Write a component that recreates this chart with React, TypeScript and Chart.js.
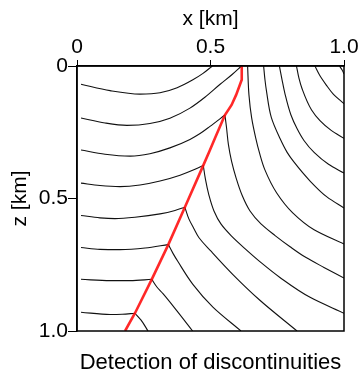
import React, { useEffect, useRef } from 'react';
import { Chart, registerables } from 'chart.js';

Chart.register(...registerables);

// Axis ticks (km)
const xTicks = [0, 0.5, 1.0];
const zTicks = [0, 0.5, 1.0];
const tickLabels = ['0', '0.5', '1.0'];

// Detected discontinuity (fault) trace: [x, z] in km
const fault = [[0.617, 0], [0.617, 0.052], [0.596, 0.109], [0.579, 0.147], [0.554, 0.185], [0.517, 0.272], [0.496, 0.322], [0.473, 0.375], [0.404, 0.533], [0.342, 0.674], [0.280, 0.805], [0.217, 0.933], [0.180, 1.0]];

// Events left of the discontinuity (ordered by x)
const left1 = [[0.015, 0.069], [0.124, 0.093], [0.236, 0.106], [0.311, 0.101], [0.375, 0.082], [0.434, 0.052], [0.472, 0.028], [0.507, 0]];
const left2 = [[0.015, 0.196], [0.105, 0.215], [0.187, 0.224], [0.273, 0.217], [0.348, 0.197], [0.423, 0.159], [0.479, 0.118], [0.536, 0.069], [0.581, 0.032], [0.616, 0]];
const left3 = [[0.015, 0.317], [0.105, 0.333], [0.199, 0.340], [0.273, 0.331], [0.348, 0.309], [0.423, 0.277], [0.461, 0.255], [0.498, 0.228], [0.554, 0.185]];
const left4 = [[0.015, 0.442], [0.086, 0.451], [0.161, 0.455], [0.236, 0.449], [0.311, 0.434], [0.386, 0.412], [0.442, 0.390], [0.473, 0.375]];
const left5 = [[0.015, 0.564], [0.086, 0.573], [0.142, 0.576], [0.217, 0.571], [0.311, 0.558], [0.367, 0.545], [0.404, 0.533]];
const left6 = [[0.015, 0.685], [0.086, 0.692], [0.161, 0.693], [0.255, 0.687], [0.342, 0.674]];
const left7 = [[0.015, 0.805], [0.124, 0.810], [0.199, 0.810], [0.280, 0.805]];
const left8 = [[0.015, 0.929], [0.124, 0.938], [0.169, 0.937], [0.217, 0.933]];

// Events right of the discontinuity (ordered by z)
const right7 = [[0.983, 0], [0.993, 0.015], [1.0, 0.030]];
const right6 = [[0.891, 0], [0.910, 0.037], [0.933, 0.071], [0.959, 0.105], [1.0, 0.142]];
const right5 = [[0.822, 0], [0.831, 0.045], [0.843, 0.086], [0.878, 0.165], [0.910, 0.206], [0.952, 0.243], [1.0, 0.273]];
const right4 = [[0.758, 0], [0.768, 0.052], [0.779, 0.105], [0.801, 0.184], [0.824, 0.236], [0.850, 0.281], [0.888, 0.326], [0.942, 0.371], [1.0, 0.404]];
const right3 = [[0.699, 0], [0.704, 0.052], [0.710, 0.097], [0.728, 0.195], [0.760, 0.273], [0.787, 0.326], [0.813, 0.363], [0.873, 0.434], [0.936, 0.494], [1.0, 0.536]];
const right2 = [[0.639, 0], [0.644, 0.109], [0.654, 0.195], [0.669, 0.270], [0.684, 0.330], [0.703, 0.390], [0.748, 0.479], [0.808, 0.554], [0.888, 0.618], [1.0, 0.672]];
const right1 = [[0.554, 0.185], [0.560, 0.232], [0.567, 0.296], [0.579, 0.360], [0.596, 0.423], [0.618, 0.487], [0.648, 0.547], [0.689, 0.596], [0.742, 0.640], [0.798, 0.682], [0.858, 0.723], [0.925, 0.760], [1.0, 0.800]];
const rightJ4 = [[0.473, 0.375], [0.481, 0.427], [0.494, 0.487], [0.513, 0.547], [0.539, 0.596], [0.577, 0.640], [0.629, 0.689], [0.693, 0.745], [0.760, 0.798], [0.873, 0.873], [1.0, 0.933]];
const rightJ5 = [[0.404, 0.533], [0.419, 0.577], [0.438, 0.614], [0.457, 0.648], [0.502, 0.699], [0.584, 0.787], [0.685, 0.884], [0.824, 1.0]];
const rightJ6 = [[0.342, 0.674], [0.360, 0.708], [0.378, 0.738], [0.434, 0.824], [0.509, 0.910], [0.614, 1.0]];
const rightJ7 = [[0.280, 0.805], [0.300, 0.835], [0.322, 0.859], [0.375, 0.925], [0.433, 1.0]];
const rightJ8 = [[0.217, 0.933], [0.240, 0.959], [0.266, 1.0]];

const leftEvents = [left1, left2, left3, left4, left5, left6, left7, left8];
const rightEvents = [right7, right6, right5, right4, right3, right2, right1, rightJ4, rightJ5, rightJ6, rightJ7, rightJ8];

const FONT = '"Liberation Sans", Arial, Helvetica, sans-serif';

const toPts = (arr: number[][]) => arr.map(([x, z]) => ({ x, y: z }));

const framePlugin = {
  id: 'frame',
  afterDatasetsDraw(chart: any) {
    const { ctx, chartArea } = chart;
    const { left, top, right, bottom } = chartArea;
    ctx.save();
    ctx.strokeStyle = '#000';
    ctx.lineWidth = 1.5;
    ctx.strokeRect(left, top, right - left, bottom - top);
    ctx.restore();
  },
};

const eventStyle = {
  showLine: true,
  borderColor: '#111',
  borderWidth: 1.1,
  pointRadius: 0,
  fill: false,
  cubicInterpolationMode: 'monotone',
};

export default function App() {
  const ref = useRef<HTMLCanvasElement | null>(null);

  useEffect(() => {
    if (!ref.current) return;
    const datasets: any[] = [
      {
        label: 'discontinuity',
        data: toPts(fault),
        indexAxis: 'y',
        showLine: true,
        borderColor: 'rgba(255,10,10,0.88)',
        borderWidth: 2.6,
        pointRadius: 0,
        fill: false,
        tension: 0,
      },
      ...leftEvents.map((ev, i) => ({ ...eventStyle, label: 'left' + i, data: toPts(ev), indexAxis: 'x' })),
      ...rightEvents.map((ev, i) => ({ ...eventStyle, label: 'right' + i, data: toPts(ev), indexAxis: 'y' })),
    ];

    const chart = new Chart(ref.current, {
      type: 'line',
      data: { datasets },
      plugins: [framePlugin],
      options: {
        animation: false,
        responsive: false,
        devicePixelRatio: 1,
        layout: { padding: { left: 0, top: 0, right: 16, bottom: 0 } },
        plugins: {
          legend: { display: false },
          tooltip: { enabled: false },
          title: {
            display: true,
            text: 'Detection of discontinuities',
            position: 'bottom',
            fullSize: false,
            color: '#000',
            font: { family: FONT, size: 22, weight: 'normal', lineHeight: 1 },
            padding: { top: 21, bottom: 0 },
          },
        },
        scales: {
          x: {
            type: 'linear',
            position: 'top',
            min: 0,
            max: 1,
            afterBuildTicks: (scale: any) => { scale.ticks = xTicks.map((v) => ({ value: v })); },
            afterFit: (scale: any) => { scale.height = 66; },
            ticks: {
              color: '#000',
              font: { family: FONT, size: 21, lineHeight: 1.2 },
              padding: 0,
              maxRotation: 0,
              callback: (v: any) => tickLabels[xTicks.indexOf(Number(v))] ?? '',
            },
            grid: { drawOnChartArea: false, drawTicks: true, tickLength: 6, color: '#000', lineWidth: 1 },
            border: { display: true, color: '#000', width: 1.5 },
            title: {
              display: true,
              text: 'x [km]',
              color: '#000',
              font: { family: FONT, size: 21, lineHeight: 1 },
              padding: { top: 9, bottom: 0 },
            },
          },
          y: {
            type: 'linear',
            position: 'left',
            reverse: true,
            min: 0,
            max: 1,
            afterBuildTicks: (scale: any) => { scale.ticks = zTicks.map((v) => ({ value: v })); },
            afterFit: (scale: any) => { scale.width = 77; },
            ticks: {
              color: '#000',
              font: { family: FONT, size: 21, lineHeight: 1.2 },
              padding: 0,
              callback: (v: any) => tickLabels[zTicks.indexOf(Number(v))] ?? '',
            },
            grid: { drawOnChartArea: false, drawTicks: true, tickLength: 9, color: '#000', lineWidth: 1 },
            border: { display: true, color: '#000', width: 1.5 },
            title: {
              display: true,
              text: 'z [km]',
              color: '#000',
              font: { family: FONT, size: 21, lineHeight: 1 },
              padding: { top: 10, bottom: 0 },
            },
          },
        },
      } as any,
    });
    return () => chart.destroy();
  }, []);

  return (
    <div style={{ position: 'absolute', left: 0, top: 0, width: 360, height: 374, background: '#fff' }}>
      <canvas ref={ref} width={360} height={374} style={{ display: 'block', width: 360, height: 374 }} />
    </div>
  );
}
